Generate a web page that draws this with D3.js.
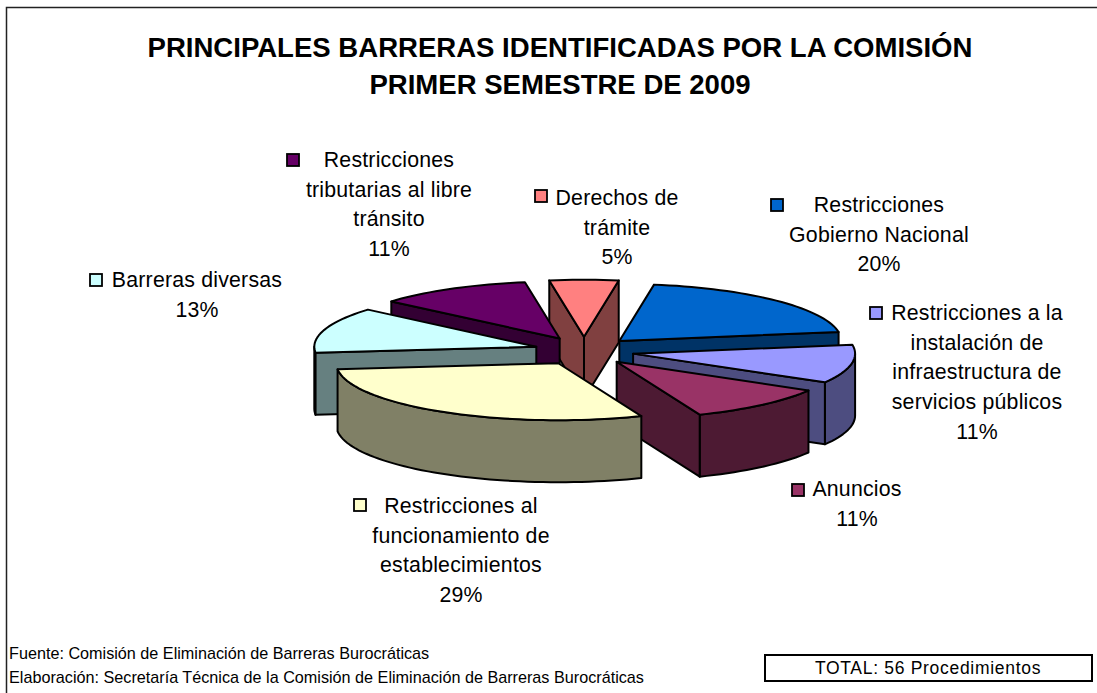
<!DOCTYPE html>
<html><head><meta charset="utf-8">
<script src="https://cdnjs.cloudflare.com/ajax/libs/d3/7.8.5/d3.min.js"></script>
<style>html,body{margin:0;padding:0;background:#fff}svg{display:block}text{font-family:"Liberation Sans",Arial,sans-serif;fill:#000}</style>
</head><body><svg id="c" width="1097" height="693"></svg>
<script>
const categories = ["Restricciones Gobierno Nacional","Restricciones a la instalación de infraestructura de servicios públicos","Anuncios","Restricciones al funcionamiento de establecimientos","Barreras diversas","Restricciones tributarias al libre tránsito","Derechos de trámite"];
const shares = [20,10.9,10.5,29.4,13,11.2,5];
const topColors = ["#0066CC","#9999FF","#993366","#FFFFCC","#CCFFFF","#660066","#FF8080"];
const wallColors = ["#003366","#4D4D80","#4D1A33","#808066","#668080","#330033","#804040"];
const titleLines = ["PRINCIPALES BARRERAS IDENTIFICADAS POR LA COMISIÓN","PRIMER SEMESTRE DE 2009"];
const footnotes = ["Fuente: Comisión de Eliminación de Barreras Burocráticas","Elaboración: Secretaría Técnica de la Comisión de Eliminación de Barreras Burocráticas"];
const totalLabel = "TOTAL: 56 Procedimientos";

// Label layout (separate from data): wrapped lines, centre x, first baseline, key position
const labelLayout = [
 {lines:["Restricciones","Gobierno Nacional"],cx:879,y:212,key:[771,199]},
 {lines:["Restricciones a la","instalación de","infraestructura de","servicios públicos"],cx:977,y:320,key:[870,307]},
 {lines:["Anuncios"],cx:857,y:496,key:[792,484]},
 {lines:["Restricciones al","funcionamiento de","establecimientos"],cx:461,y:513,key:[354,499]},
 {lines:["Barreras diversas"],cx:197,y:287,key:[90,274]},
 {lines:["Restricciones","tributarias al libre","tránsito"],cx:389,y:167,key:[287,154]},
 {lines:["Derechos de","trámite"],cx:617,y:205,key:[535,190]}
];

const svg = d3.select("#c");
const DEG = Math.PI/180;
const cx=584, cy=351, rx=222, ry=57, depth=62, explodeX=0.225, explodeY=0.25;

const pie = d3.pie().sort(null).startAngle(9*DEG).endAngle(369*DEG);
const arcs = pie(shares).map((d,i)=>({...d,i,mid:(d.startAngle+d.endAngle)/2}));

const px = d3.scaleLinear().domain([-1,1]).range([-rx,rx]);
const py = d3.scaleLinear().domain([-1,1]).range([ry,-ry]);
const pt = (t,ox,oy)=>[ox+px(Math.sin(t)), oy+py(Math.cos(t))];
const line = d3.line();

const g = svg.append("g").attr("stroke","#000").attr("stroke-width",2).attr("stroke-linejoin","round");
arcs.slice().sort((a,b)=>d3.descending(Math.cos(a.mid),Math.cos(b.mid))).forEach(a=>{
  const ox=cx+px(explodeX*Math.sin(a.mid)), oy=cy+py(explodeY*Math.cos(a.mid));
  const s=g.append("g").attr("class","slice");
  const C=[ox,oy], S=pt(a.startAngle,ox,oy), E=pt(a.endAngle,ox,oy);
  const down=p=>[p[0],p[1]+depth];
  const wall=pts=>s.append("path").attr("d",line(pts)+"Z").attr("fill",wallColors[a.i]);
  for(const k of [0,1]){
    const lo=Math.max(a.startAngle,(90+360*k)*DEG), hi=Math.min(a.endAngle,(270+360*k)*DEG);
    if(hi>lo){ const n=Math.ceil((hi-lo)/(2*DEG)); const top=d3.range(n+1).map(j=>pt(lo+(hi-lo)*j/n,ox,oy));
      wall(top.concat(top.slice().reverse().map(down))); }
  }
  if(Math.sin(a.startAngle)<0) wall([C,S,down(S),down(C)]);
  if(Math.sin(a.endAngle)>0) wall([C,E,down(E),down(C)]);
  const n=Math.ceil((a.endAngle-a.startAngle)/(2*DEG));
  const rim=d3.range(n+1).map(j=>pt(a.startAngle+(a.endAngle-a.startAngle)*j/n,ox,oy));
  s.append("path").attr("d",line([C,...rim])+"Z").attr("fill",topColors[a.i]);
});

svg.append("path").attr("d","M6.5 693V7.5H1097").attr("fill","none").attr("stroke","#222").attr("stroke-width",1.5);

svg.append("g").selectAll("text").data(titleLines).join("text")
  .attr("x",560).attr("y",(d,i)=>57+i*37).attr("text-anchor","middle")
  .attr("font-weight","bold").attr("font-size",27.55).text(d=>d);

labelLayout.forEach((l,i)=>{
  const lh=29.7;
  const gl=svg.append("g");
  l.lines.concat([Math.round(shares[i])+"%"]).forEach((t,j)=>{
    gl.append("text").attr("x",l.cx).attr("y",l.y+j*lh).attr("text-anchor","middle").attr("font-size",21.3).attr("letter-spacing",0.2).text(t);
  });
  gl.append("rect").attr("x",l.key[0]).attr("y",l.key[1]).attr("width",12).attr("height",12)
    .attr("fill",topColors[i]).attr("stroke","#000").attr("stroke-width",1.8);
});

svg.append("g").selectAll("text").data(footnotes).join("text")
  .attr("x",9).attr("y",(d,i)=>659+i*24).attr("font-size",16.2).text(d=>d);

svg.append("rect").attr("x",765).attr("y",655).attr("width",327).attr("height",26).attr("fill","#fff").attr("stroke","#000").attr("stroke-width",2);
svg.append("text").attr("x",928).attr("y",674).attr("text-anchor","middle").attr("font-size",17.5).attr("letter-spacing",0.7).text(totalLabel);
</script></body></html>
